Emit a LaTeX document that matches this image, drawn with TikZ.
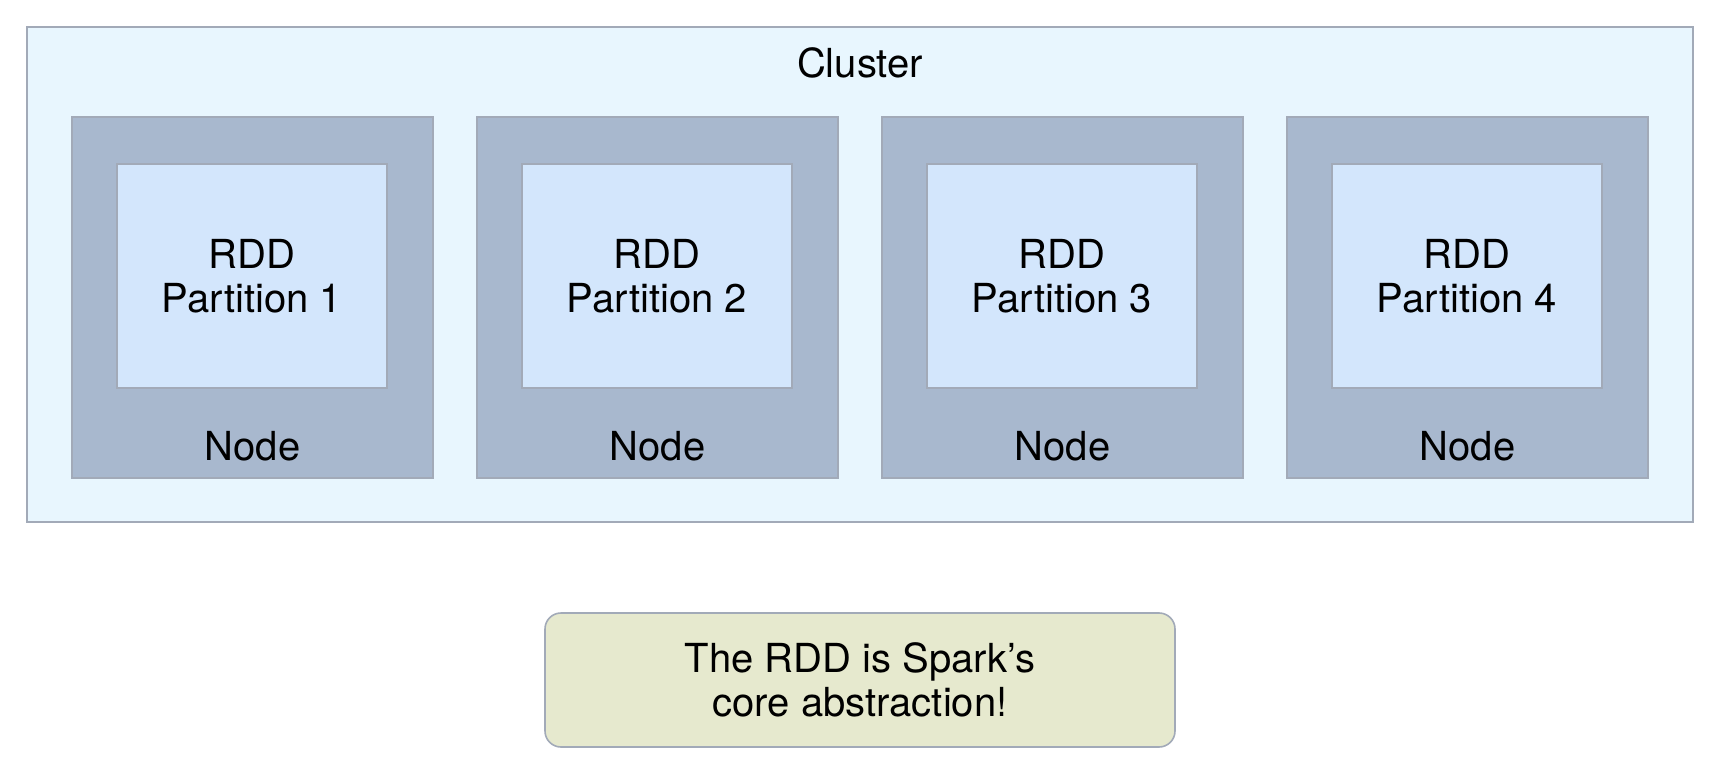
\documentclass[tikz,border=0pt]{standalone}
\usepackage{fontspec}
\setmainfont{TeX Gyre Heros}
\usetikzlibrary{positioning}
\definecolor{ClusterBlue}{RGB}{232,246,254}
\definecolor{NodeGray}{RGB}{168,184,206}
\definecolor{PartBlue}{RGB}{211,230,252}
\definecolor{NoteGreen}{RGB}{230,233,206}
\definecolor{EdgeGray}{RGB}{162,170,184}
\tikzset{
	box/.style={draw=EdgeGray, line width=1.6pt, inner sep=0pt},
	clusterbox/.style={box, fill=ClusterBlue, minimum width=1666pt, minimum height=495pt},
	nodebox/.style={box, fill=NodeGray, minimum size=361pt},
	partbox/.style={box, fill=PartBlue, minimum width=270pt, minimum height=224pt, align=center},
	notebox/.style={box, fill=NoteGreen, rounded corners=16pt, minimum width=630pt, minimum height=134pt, align=center},
	txt/.style={inner sep=0pt, font=\fontsize{40}{44}\selectfont},
}

\begin{document}
\begin{tikzpicture}[x=1pt,y=-1pt]
		\useasboundingbox[fill=white] (0,0) rectangle (1720,775);

		\node[clusterbox] (cluster) at (860,274.5) {};
		\node[txt, below=21pt of cluster.north] (clusterlbl) {Cluster};

		\foreach \i in {1,...,4}{
			\node[nodebox] (node\i) at ({252.5+405*(\i-1)},297.5) {};
			\node[partbox, txt] (part\i) at ({252+405*(\i-1)},276) {RDD\\Partition \i};
			\node[txt, above=18pt of node\i.south] (nodelbl\i) {Node};
		}

		\node[notebox, txt] (note) at (860,680) {The RDD is Spark’s\\core abstraction!};
	\end{tikzpicture}
\end{document}
